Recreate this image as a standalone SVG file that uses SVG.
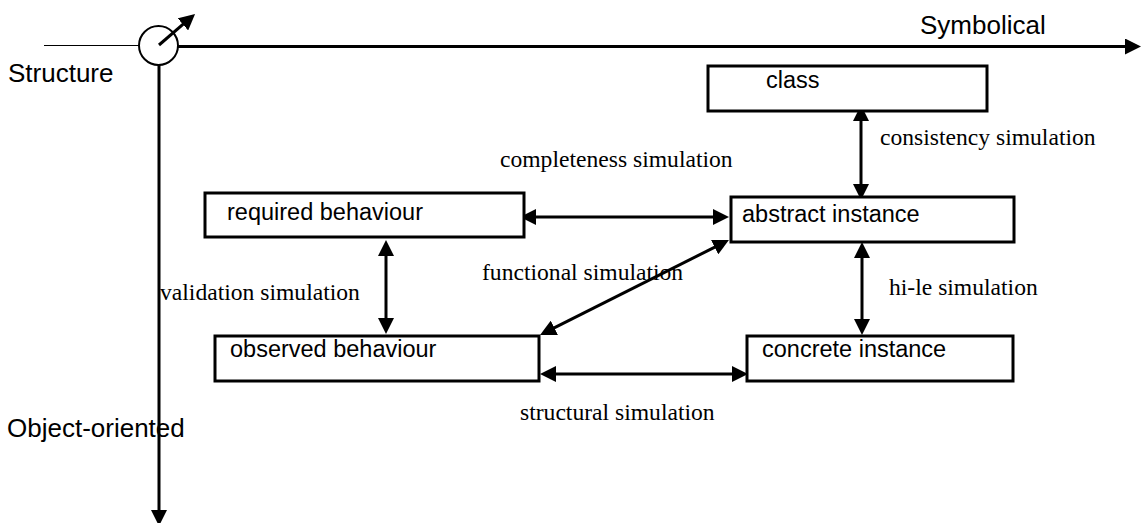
<svg xmlns="http://www.w3.org/2000/svg" width="1141" height="523" viewBox="0 0 1141 523">
<style>
.box{fill:#fff;stroke:#000;stroke-width:3}
.lbl{font-family:"Liberation Sans",Arial,sans-serif;font-size:23.5px;fill:#000}
.axl{font-family:"Liberation Sans",Arial,sans-serif;font-size:26px;fill:#000}
.sim{font-family:"Liberation Serif","Times New Roman",serif;font-size:23.6px;fill:#000}
.con{stroke:#000;stroke-width:3;fill:none;marker-start:url(#ah);marker-end:url(#ah)}
.ax{stroke:#000;stroke-width:3;fill:none;marker-end:url(#ah)}
</style>
<defs>
<marker id="ah" markerUnits="userSpaceOnUse" markerWidth="16" markerHeight="16" viewBox="0 0 16 16" refX="8" refY="8" orient="auto-start-reverse">
<path d="M0,0 L16,8 L0,16 z" fill="#000"/>
</marker>
</defs>
<rect width="1141" height="523" fill="#fff"/>
<g id="axes">
<line x1="44" y1="45.5" x2="139" y2="45.5" stroke="#000" stroke-width="1"/>
<circle cx="158.5" cy="45.5" r="19.5" fill="#fff" stroke="#000" stroke-width="2"/>
<line class="ax" x1="178" y1="46.5" x2="1133" y2="46.5"/>
<line class="ax" x1="159" y1="65" x2="159" y2="518"/>
<line class="ax" x1="159" y1="45" x2="189" y2="19.2"/>
<text class="axl" x="920" y="34">Symbolical</text>
<text class="axl" x="8" y="82">Structure</text>
<text class="axl" x="7" y="437">Object-oriented</text>
</g>
<g id="connectors">
<line class="con" x1="861" y1="113" x2="861" y2="192"/>
<line class="con" x1="528" y1="217" x2="721" y2="217"/>
<line class="con" x1="386" y1="248" x2="386" y2="326"/>
<line class="con" x1="547.2" y1="331.4" x2="721.8" y2="243.6"/>
<line class="con" x1="862" y1="250" x2="862" y2="327"/>
<line class="con" x1="548" y1="374" x2="740" y2="374"/>
<text class="sim" x="880" y="145">consistency simulation</text>
<text class="sim" x="500" y="167">completeness simulation</text>
<text class="sim" x="482" y="280">functional simulation</text>
<text class="sim" x="160" y="300">validation simulation</text>
<text class="sim" x="889" y="295">hi-le simulation</text>
<text class="sim" x="520" y="420">structural simulation</text>
</g>
<g id="class">
<rect class="box" x="708" y="66" width="279" height="45"/>
<text class="lbl" x="766" y="88">class</text>
</g>
<g id="abstract-instance">
<rect class="box" x="731" y="197" width="283" height="45"/>
<text class="lbl" x="742" y="222">abstract instance</text>
</g>
<g id="required-behaviour">
<rect class="box" x="205" y="193" width="319" height="44"/>
<text class="lbl" x="227" y="220">required behaviour</text>
</g>
<g id="observed-behaviour">
<rect class="box" x="215" y="336" width="324" height="45"/>
<text class="lbl" x="230" y="357">observed behaviour</text>
</g>
<g id="concrete-instance">
<rect class="box" x="747" y="336" width="266" height="45"/>
<text class="lbl" x="762" y="357">concrete instance</text>
</g>
</svg>
